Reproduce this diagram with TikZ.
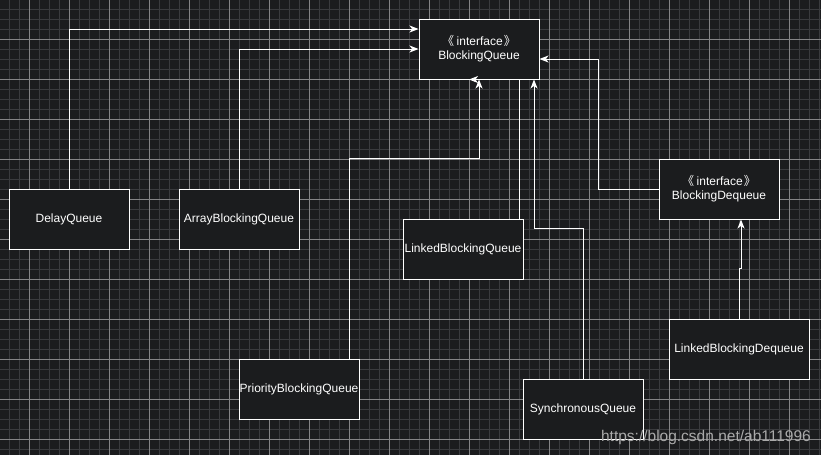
\documentclass[tikz,border=0pt]{standalone}
\usepackage{fontspec}
\setmainfont{Liberation Sans}
\newfontfamily\cjkfont{Noto Sans CJK SC}
\usetikzlibrary{arrows.meta}

\definecolor{canvas}{RGB}{27,28,30}
\definecolor{gridminor}{RGB}{58,59,62}
\definecolor{gridmajor}{RGB}{132,132,134}
\definecolor{wmgray}{RGB}{170,170,170}
\newcommand{\stereo}{{\cjkfont 《}\kern2.5pt interface\kern1pt{\cjkfont 》}}

\begin{document}
\begin{tikzpicture}[x=1pt, y=-1pt, >={Stealth[length=9pt, width=7pt, inset=2.5pt]},
  cls/.style={rectangle, draw=white, line width=1pt, fill=canvas, text=white, minimum width=120pt, minimum height=60pt, inner sep=0pt, align=center, font=\fontsize{12}{14}\selectfont},
  impl/.style={->, line width=1pt, draw=white}
]
\useasboundingbox (0,0) rectangle (821,455);
\fill[canvas] (0,0) rectangle (821,455);
% grid
\foreach \g in {9,19,...,819} \draw[gridminor, line width=1pt] (\g,0) -- (\g,455);
\foreach \g in {9,19,...,449} \draw[gridminor, line width=1pt] (0,\g) -- (821,\g);
\foreach \g in {29,69,...,789} \draw[gridmajor, line width=1pt] (\g,0) -- (\g,455);
\foreach \g in {39,79,...,439} \draw[gridmajor, line width=1pt] (0,\g) -- (821,\g);

\node[cls] (bq) at (479,49) {\stereo\\BlockingQueue};
\node[cls] (bdq) at (719,189) {\stereo\\BlockingDequeue};
\node[cls] (dq) at (69,219) {DelayQueue};
\node[cls] (abq) at (239,219) {ArrayBlockingQueue};
\node[cls] (lbq) at (463,249) {LinkedBlockingQueue};
\node[cls] (pbq) at (299,389) {PriorityBlockingQueue};
\node[cls] (sq) at (583,409) {SynchronousQueue};
\node[cls, minimum width=140pt] (lbdq) at (739,349) {LinkedBlockingDequeue};

\draw[impl] (dq.north) |- ([yshift=20pt]bq.west);
\draw[impl] (abq.north) |- (bq.west);
\draw[impl] ([xshift=50pt]pbq.north) -- ++(0,-200) -| (bq.south);
\draw[impl] ([xshift=56pt]lbq.north) |- ([xshift=-10pt]bq.south);
\draw[impl] (sq.north) -- ++(0,-150) -| ([xshift=55pt]bq.south);
\draw[impl] (bdq.west) -- ++(-60,0) |- ([yshift=-10pt]bq.east);
\draw[impl] (lbdq.north) -- ++(0,-50) -| ([xshift=22pt]bdq.south);

\node[anchor=base east, inner sep=0pt, text=wmgray, font=\fontsize{15.5}{18}\selectfont] (wm) at (811,441) {https://blog.csdn.net/ab111996};
\end{tikzpicture}
\end{document}
